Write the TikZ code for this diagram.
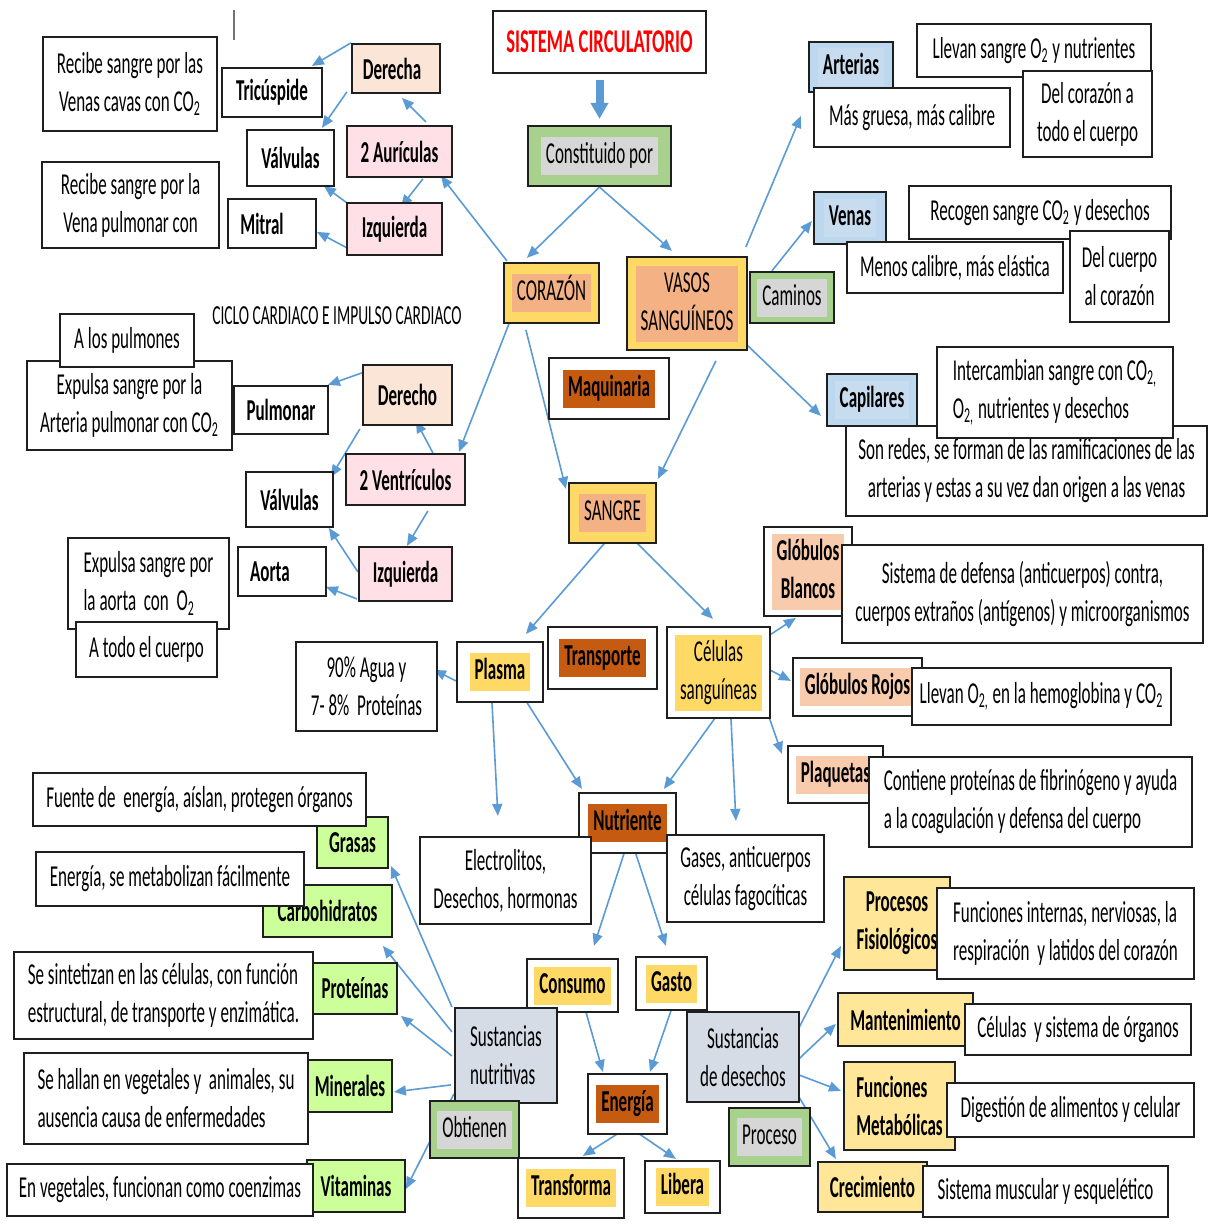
\documentclass[tikz,border=0pt]{standalone}
\usepackage{fontspec}
\setmainfont[FakeStretch=0.56]{Carlito}
\usetikzlibrary{arrows.meta}

\definecolor{linkblue}{HTML}{5B9BD5}
\definecolor{cgreen}{HTML}{A9D18E}
\definecolor{cgray}{HTML}{D6D6D6}
\definecolor{cyellow}{HTML}{FFD966}
\definecolor{csalmon}{HTML}{F4B183}
\definecolor{cpeachlt}{HTML}{FBE5D6}
\definecolor{cpink}{HTML}{FFE0E6}
\definecolor{cblue}{HTML}{BDD7EE}
\definecolor{cblueinner}{HTML}{C8DCF0}
\definecolor{corange}{HTML}{C55A11}
\definecolor{cpeach}{HTML}{F8CBAD}
\definecolor{clime}{HTML}{CCFF99}
\definecolor{cslate}{HTML}{D6DCE5}
\definecolor{cpale}{HTML}{FFE699}

\newcommand\fs{\fontsize{15.2}{19}\selectfont}
% highlighted text block inside a box
\newcommand\hilite[2]{{\setlength\fboxsep{0pt}\colorbox{#1}{\begin{tabular}{@{\hspace{2.5pt}}c@{\hspace{2.5pt}}}#2\end{tabular}}}}
% box from its corners: style, name, x1, y1, x2, y2, text
\newcommand\boxat[7]{\node[#1, minimum width={(#5-#3)*0.5pt}, minimum height={(#6-#4)*0.5pt}] (#2) at ({(#3+#5)/2},{(#4+#6)/2}) {#7};}

\pgfdeclarelayer{paper}
\pgfdeclarelayer{links}
\pgfsetlayers{paper,links,main}

\begin{document}
\begin{tikzpicture}[x=0.5pt,y=-0.5pt,
  boxbase/.style={draw=black!88, line width=1.1pt, inner sep=0pt, align=center, font=\fs},
  wbox/.style={boxbase, fill=white},
  strong/.style={font=\fs\bfseries},
  link/.style={draw=linkblue, line width=0.8pt, -{Triangle[length=6pt,width=5pt]}},
  bigarrow/.style={draw=linkblue, line width=4pt, -{Triangle[length=8pt,width=8.5pt]}, shorten <=3pt, shorten >=3pt}]

\begin{pgfonlayer}{paper}
  \fill[white] (0,0) rectangle (1208,1230);
\end{pgfonlayer}
\useasboundingbox (0,0) rectangle (1208,1230);

% stray cursor mark
\draw[black!55, line width=0.6pt] (234,10) -- (234,40);

% ---- centre column
\boxat{wbox, font=\fontsize{16.6}{19}\selectfont\bfseries, text=red}{title}{493}{11}{706}{73}{SISTEMA CIRCULATORIO}
\boxat{boxbase, fill=cgreen}{const}{528}{126}{671}{186}{\hilite{cgray}{Constituido por}}
\boxat{boxbase, fill=cyellow}{coraz}{504}{263}{599}{323}{\hilite{csalmon}{CORAZÓN}}
\boxat{boxbase, fill=cyellow}{vasos}{627}{257}{747}{350}{\hilite{csalmon}{VASOS\\SANGUÍNEOS}}
\boxat{boxbase, fill=cgreen}{caminos}{750}{272}{834}{323}{\hilite{cgray}{Caminos}}

% ---- vessels
\boxat{boxbase, strong, fill=cblue}{arterias}{809}{42}{893}{92}{\hilite{cblueinner}{Arterias}}
\boxat{wbox}{llevanA}{917}{24}{1151}{77}{Llevan sangre O\textsubscript{2} y nutrientes}
\boxat{wbox}{gruesa}{814}{88}{1010}{147}{Más gruesa, más calibre}
\boxat{wbox}{delcor}{1023}{71}{1152}{157}{Del corazón a\\todo el cuerpo}
\boxat{boxbase, strong, fill=cblue}{venas}{814}{192}{886}{244}{\hilite{cblueinner}{Venas}}
\boxat{wbox}{recogen}{909}{186}{1171}{239}{Recogen sangre CO\textsubscript{2} y desechos}
\boxat{wbox}{menos}{847}{242}{1063}{293}{Menos calibre, más elástica}
\boxat{wbox}{delcue}{1070}{231}{1169}{322}{Del cuerpo\\al corazón}
\boxat{boxbase, strong, fill=cblue}{capil}{827}{374}{917}{426}{\hilite{cblueinner}{Capilares}}
\boxat{wbox}{redes}{846}{426}{1207}{516}{Son redes, se forman de las ramificaciones de las\\arterias y estas a su vez dan origen a las venas}
\boxat{wbox, align=left}{interc}{937}{347}{1173}{438}{Intercambian sangre con CO\textsubscript{2,}\\O\textsubscript{2,} nutrientes y desechos}

% ---- atria
\boxat{boxbase, strong, fill=cpeachlt}{derecha}{352}{44}{440}{93}{Derecha\hspace*{4pt}}
\boxat{wbox}{recA}{43}{37}{217}{131}{Recibe sangre por las\\Venas cavas con CO\textsubscript{2}}
\boxat{wbox, strong}{tric}{222}{68}{322}{117}{Tricúspide}
\boxat{wbox, strong}{valvA}{247}{130}{334}{186}{Válvulas}
\boxat{boxbase, strong, fill=cpink}{aur}{347}{126}{452}{177}{2 Aurículas}
\boxat{wbox}{recB}{42}{162}{219}{248}{Recibe sangre por la\\Vena pulmonar con}
\boxat{wbox, strong}{mitral}{228}{199}{316}{248}{Mitral\hspace*{10pt}}
\boxat{boxbase, strong, fill=cpink}{izqA}{347}{203}{442}{255}{Izquierda}

\node[font=\fontsize{13.8}{16}\selectfont] (ciclo) at (337,316) {CICLO CARDIACO E IMPULSO CARDIACO};

% ---- ventricles
\boxat{wbox}{expA}{27}{361}{232}{450}{Expulsa sangre por la\\Arteria pulmonar con CO\textsubscript{2}}
\boxat{wbox}{pulmones}{60}{314}{194}{367}{A los pulmones}
\boxat{wbox, strong}{pulmonar}{234}{386}{328}{434}{Pulmonar}
\boxat{boxbase, strong, fill=cpeachlt}{derecho}{363}{365}{452}{425}{Derecho}
\boxat{boxbase, strong, fill=cpink}{vent}{346}{454}{465}{505}{2 Ventrículos}
\boxat{wbox, strong}{valvB}{246}{472}{333}{527}{Válvulas}
\boxat{boxbase, strong, fill=cpink}{izqB}{359}{547}{452}{601}{Izquierda}
\boxat{wbox, strong}{aorta}{238}{547}{326}{596}{Aorta\hspace*{12pt}}
\boxat{wbox, align=left}{expB}{68}{538}{229}{629}{Expulsa sangre por\\la aorta\ \ con\ \ O\textsubscript{2}}
\boxat{wbox}{todo}{76}{622}{217}{677}{A todo el cuerpo}

% ---- blood
\boxat{wbox, strong}{maq}{549}{358}{669}{419}{\hilite{corange}{Maquinaria}}
\boxat{boxbase, fill=cyellow}{sangre}{569}{483}{656}{543}{\hilite{csalmon}{SANGRE}}
\boxat{wbox, strong}{plasma}{457}{642}{543}{702}{\hilite{cyellow}{Plasma}}
\boxat{wbox, strong}{transp}{548}{627}{657}{689}{\hilite{corange}{Transporte}}
\boxat{wbox}{celulas}{667}{627}{770}{718}{\hilite{cyellow}{Células\\sanguíneas}}
\boxat{wbox}{agua}{296}{642}{437}{731}{90\% Agua y\\7- 8\%\ \ Proteínas}
\boxat{wbox, strong}{gbl}{764}{527}{852}{616}{\hilite{cpeach}{Glóbulos\\Blancos}}
\boxat{wbox}{defensa}{842}{545}{1203}{643}{Sistema de defensa (anticuerpos) contra,\\cuerpos extraños (antígenos) y microorganismos}
\boxat{wbox, strong}{grojos}{793}{658}{922}{716}{\hilite{cpeach}{Glóbulos Rojos}}
\boxat{wbox}{llevanB}{912}{668}{1171}{725}{Llevan O\textsubscript{2,} en la hemoglobina y CO\textsubscript{2}}
\boxat{wbox, strong}{plaq}{788}{746}{883}{803}{\hilite{cpeach}{Plaquetas}}
\boxat{wbox, align=left}{contiene}{869}{757}{1192}{847}{Contiene proteínas de fibrinógeno y ayuda\\a la coagulación y defensa del cuerpo}

% ---- nutrients and energy
\boxat{wbox, strong}{nutri}{579}{793}{676}{853}{\hilite{corange}{Nutriente}}
\boxat{wbox}{electro}{420}{837}{591}{924}{Electrolitos,\\Desechos, hormonas}
\boxat{wbox}{gases}{667}{835}{824}{922}{Gases, anticuerpos\\células fagocíticas}
\boxat{wbox, strong}{consumo}{527}{959}{618}{1012}{\hilite{cyellow}{Consumo}}
\boxat{wbox, strong}{gasto}{636}{957}{707}{1010}{\hilite{cyellow}{Gasto}}
\boxat{boxbase, fill=cslate, align=left}{sustnut}{455}{1008}{557}{1103}{Sustancias\\nutritivas}
\boxat{boxbase, fill=cgreen}{obt}{430}{1101}{519}{1158}{\hilite{cgray}{Obtienen}}
\boxat{wbox, strong}{energia}{588}{1074}{667}{1134}{\hilite{corange}{Energía}}
\boxat{boxbase, fill=cslate}{sustdes}{687}{1012}{799}{1102}{Sustancias\\de desechos}
\boxat{boxbase, fill=cgreen}{proceso}{729}{1108}{810}{1166}{\hilite{cgray}{Proceso}}
\boxat{wbox, strong}{transf}{518}{1158}{624}{1218}{\hilite{cyellow}{Transforma}}
\boxat{wbox, strong}{libera}{645}{1161}{720}{1213}{\hilite{cyellow}{Libera}}

% ---- nutritive substances
\boxat{boxbase, strong, fill=clime}{grasas}{317}{817}{388}{868}{Grasas}
\boxat{wbox}{fuente}{33}{773}{366}{826}{Fuente de\ \ energía, aíslan, protegen órganos}
\boxat{boxbase, strong, fill=clime}{carbo}{263}{885}{392}{937}{Carbohidratos}
\boxat{wbox}{enerdesc}{36}{852}{304}{906}{Energía, se metabolizan fácilmente}
\boxat{boxbase, strong, fill=clime}{prot}{313}{963}{397}{1014}{Proteínas}
\boxat{wbox, align=left}{sinte}{14}{952}{313}{1039}{Se sintetizan en las células, con función\\estructural, de transporte y enzimática.}
\boxat{boxbase, strong, fill=clime}{miner}{308}{1060}{392}{1112}{Minerales}
\boxat{wbox, align=left}{hallan}{24}{1053}{308}{1144}{Se hallan en vegetales y\ \ animales, su\\ausencia causa de enfermedades}
\boxat{boxbase, strong, fill=clime}{vitam}{307}{1160}{405}{1212}{Vitaminas}
\boxat{wbox}{vegetales}{7}{1164}{313}{1216}{En vegetales, funcionan como coenzimas}

% ---- waste processes
\boxat{boxbase, strong, fill=cpale}{procfis}{844}{877}{950}{970}{Procesos\\Fisiológicos}
\boxat{wbox, align=left}{funcint}{937}{888}{1194}{979}{Funciones internas, nerviosas, la\\respiración\ \ y latidos del corazón}
\boxat{boxbase, strong, fill=cpale}{mant}{838}{993}{973}{1046}{Mantenimiento}
\boxat{wbox}{celsis}{965}{1004}{1191}{1055}{Células\ \ y sistema de órganos}
\boxat{boxbase, strong, fill=cpale, align=left}{funcmet}{844}{1062}{955}{1150}{Funciones\\Metabólicas}
\boxat{wbox}{digest}{947}{1083}{1194}{1137}{Digestión de alimentos y celular}
\boxat{boxbase, strong, fill=cpale}{crec}{818}{1162}{927}{1212}{Crecimiento}
\boxat{wbox}{muscular}{923}{1166}{1168}{1217}{Sistema muscular y esquelético}

% ---- connectors
\begin{pgfonlayer}{links}
\draw[bigarrow] (title.south) -- (const.north);
\draw[link] (const.south) -- ([shift={(24,-4)}]coraz.north west);
\draw[link] (const.south) -- ([shift={(46,-5)}]vasos.north west);
\draw[link] ([shift={(4,-1)}]coraz.north west) -- ([shift={(95,51)}]aur.north west);
\draw[link] ([shift={(6,62)}]coraz.north west) -- ([shift={(114,-1)}]vent.north west);
\draw[link] ([shift={(23,68)}]coraz.north west) -- ([shift={(-2,7)}]sangre.north west);
\draw[link] ([shift={(120,-9)}]vasos.north west) -- ([shift={(-7,75)}]arterias.north west);
\draw[link] ([shift={(23,0)}]caminos.north west) -- ([shift={(-1,30)}]venas.north west);
\draw[link] ([shift={(120,88)}]vasos.north west) -- ([shift={(-5,43)}]capil.north west);
\draw[link] ([shift={(90,105)}]vasos.north west) -- ([shift={(90,-3)}]sangre.north west);

\draw[link] (derecha.north west) -- ([shift={(91,-1)}]tric.north west);
\draw[link] ([shift={(-4,49)}]derecha.north west) -- ([shift={(76,-1)}]valvA.north west);
\draw[link] ([shift={(80,-3)}]aur.north west) -- ([shift={(51,55)}]derecha.north west);
\draw[link] ([shift={(77,54)}]aur.north west) -- ([shift={(55,5)}]izqA.north west);
\draw[link] ([shift={(1,1)}]izqA.north west) -- ([shift={(78,57)}]valvA.north west);
\draw[link] ([shift={(3,47)}]izqA.north west) -- ([shift={(90,34)}]mitral.north west);

\draw[link] ([shift={(0,9)}]derecho.north west) -- ([shift={(95,0)}]pulmonar.north west);
\draw[link] ([shift={(-2,65)}]derecho.north west) -- ([shift={(86,6)}]valvB.north west);
\draw[link] ([shift={(88,0)}]vent.north west) -- ([shift={(54,57)}]derecho.north west);
\draw[link] ([shift={(83,58)}]vent.north west) -- ([shift={(49,0)}]izqB.north west);
\draw[link] ([shift={(0,26)}]izqB.north west) -- ([shift={(84,57)}]valvB.north west);
\draw[link] ([shift={(-1,53)}]izqB.north west) -- ([shift={(89,41)}]aorta.north west);

\draw[link] ([shift={(43,54)}]sangre.north west) -- ([shift={(70,-7)}]plasma.north west);
\draw[link] ([shift={(68,60)}]sangre.north west) -- ([shift={(47,-7)}]celulas.north west);
\draw[link] ([shift={(104,9)}]celulas.north west) -- ([shift={(33,92)}]gbl.north west);
\draw[link] ([shift={(104,44)}]celulas.north west) -- ([shift={(-1,24)}]grojos.north west);
\draw[link] ([shift={(102,88)}]celulas.north west) -- ([shift={(-5,9)}]plaq.north west);
\draw[link] ([shift={(0,40)}]plasma.north west) -- ([shift={(139,29)}]agua.north west);
\draw[link] ([shift={(36,60)}]plasma.north west) -- ([shift={(79,-20)}]electro.north west);
\draw[link] ([shift={(70,60)}]plasma.north west) -- ([shift={(4,-3)}]nutri.north west);
\draw[link] ([shift={(50,91)}]celulas.north west) -- ([shift={(86,-3)}]nutri.north west);
\draw[link] ([shift={(65,91)}]celulas.north west) -- ([shift={(70,-13)}]gases.north west);

\draw[link] ([shift={(46,62)}]nutri.north west) -- ([shift={(68,-12)}]consumo.north west);
\draw[link] ([shift={(57,59)}]nutri.north west) -- ([shift={(31,-10)}]gasto.north west);
\draw[link] ([shift={(60,54)}]consumo.north west) -- ([shift={(16,-1)}]energia.north west);
\draw[link] ([shift={(36,55)}]gasto.north west) -- ([shift={(63,-1)}]energia.north west);
\draw[link] ([shift={(32,60)}]energia.north west) -- ([shift={(66,-1)}]transf.north west);
\draw[link] ([shift={(45,56)}]energia.north west) -- ([shift={(32,-1)}]libera.north west);

\draw[link] ([shift={(-2,0)}]sustnut.north west) -- ([shift={(75,50)}]grasas.north west);
\draw[link] ([shift={(-2,25)}]sustnut.north west) -- ([shift={(121,62)}]carbo.north west);
\draw[link] ([shift={(-2,49)}]sustnut.north west) -- ([shift={(89,54)}]prot.north west);
\draw[link] ([shift={(-3,78)}]sustnut.north west) -- ([shift={(87,33)}]miner.north west);
\draw[link] ([shift={(0,87)}]sustnut.north west) -- ([shift={(100,30)}]vitam.north west);

\draw[link] ([shift={(113,17)}]sustdes.north west) -- ([shift={(-2,70)}]procfis.north west);
\draw[link] ([shift={(113,48)}]sustdes.north west) -- ([shift={(-1,32)}]mant.north west);
\draw[link] ([shift={(113,64)}]sustdes.north west) -- ([shift={(-2,30)}]funcmet.north west);
\draw[link] ([shift={(113,86)}]sustdes.north west) -- ([shift={(19,-2)}]crec.north west);
\end{pgfonlayer}
\end{tikzpicture}
\end{document}
